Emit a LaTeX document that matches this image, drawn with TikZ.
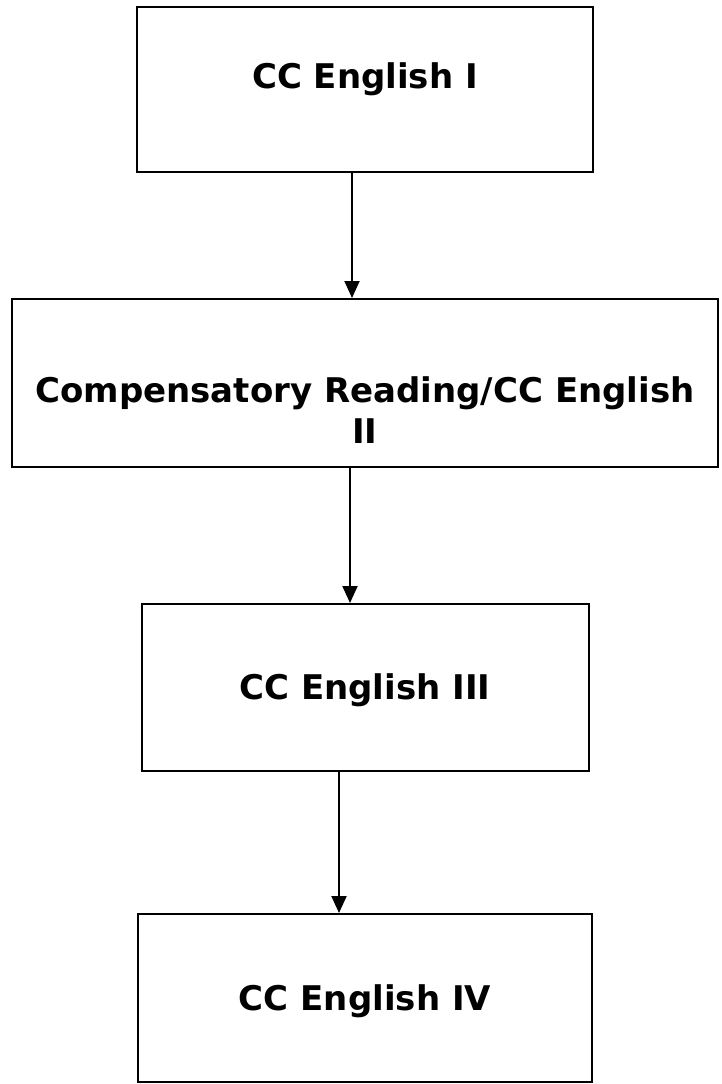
\documentclass[tikz,border=0pt]{standalone}
\usepackage{fontspec}
\setmainfont{DejaVu Sans}
\usetikzlibrary{positioning,arrows.meta}

\begin{document}
\begin{tikzpicture}[x=1pt,y=-1pt,
        course/.style={rectangle, draw=black, line width=2pt, inner sep=0pt,
            font=\fontsize{34}{41}\selectfont\bfseries, text height=24.8pt, text depth=0pt},
        flow/.style={-{Triangle[length=17pt,width=15pt]}, line width=2pt}]
        \useasboundingbox (0,0) rectangle (722,1084);

        \node[course, minimum width=456pt, minimum height=165pt, text depth=26pt] (eng1) at (365,89.5) {CC English I};
        \node[course, minimum width=706pt, minimum height=168pt, align=center, text height=121pt] (comp) [below=125pt of eng1] {Compensatory Reading/CC English\\II};
        \node[course, minimum width=447pt, minimum height=167pt] (eng3) [below=135pt of comp] {CC English III};
        \node[course, minimum width=454pt, minimum height=168pt] (eng4) [below=141pt of eng3] {CC English IV};

        \draw[flow] ([xshift=-13pt]eng1.south) -- ([xshift=-13pt]eng1.south |- comp.north);
        \draw[flow] ([xshift=-15pt]comp.south) -- ([xshift=-15pt]comp.south |- eng3.north);
        \draw[flow] ([xshift=-26pt]eng3.south) -- ([xshift=-26pt]eng3.south |- eng4.north);
    \end{tikzpicture}
\end{document}
